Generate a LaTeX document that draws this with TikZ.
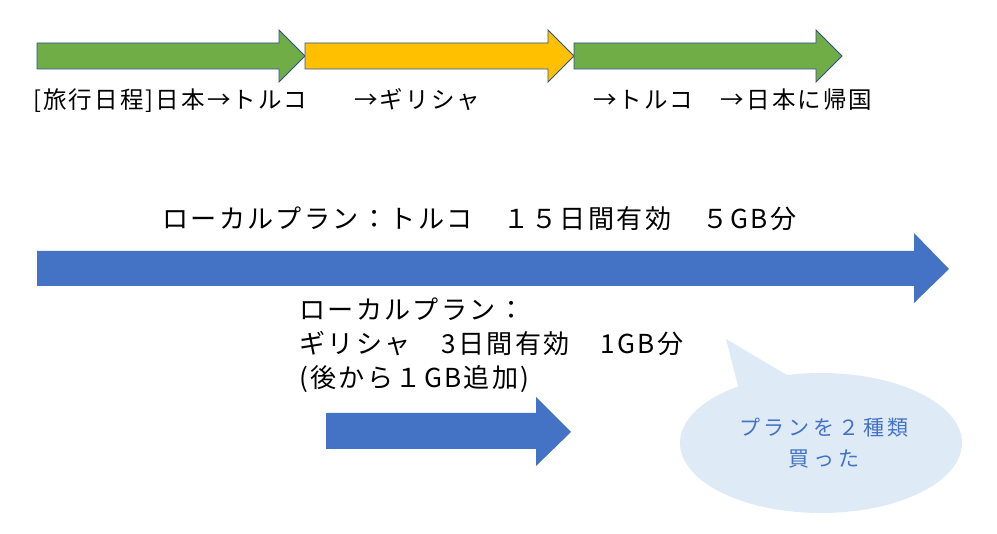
\documentclass[tikz,border=0pt]{standalone}
\usepackage{fontspec}
\setmainfont{Noto Sans CJK JP}
\newfontfamily\jp[LetterSpace=9]{Noto Sans CJK JP}
\newfontfamily\jpwide[LetterSpace=18]{Noto Sans CJK JP}
\definecolor{pgreen}{HTML}{70AD47}
\definecolor{pyellow}{HTML}{FFC000}
\definecolor{poutline}{HTML}{2F528F}
\definecolor{pblue}{HTML}{4472C4}
\definecolor{pbubble}{HTML}{DEEBF7}
\tikzset{
  toparrow/.style={draw=poutline, line width=0.8pt, line join=miter},
  bigarrow/.style={fill=pblue, draw=none},
  toplabel/.style={anchor=base west, inner sep=0pt, font=\jp\fontsize{23.5}{28}\selectfont},
  mainlabel/.style={anchor=base west, inner sep=0pt, font=\jp\fontsize{26.1}{33}\selectfont},
  bubbletext/.style={anchor=base, inner sep=0pt, text=pblue, font=\jpwide\fontsize{21}{26}\selectfont},
}
\begin{document}
\begin{tikzpicture}[x=1pt,y=-1pt]
\useasboundingbox (0,0) rectangle (997,534);
% top itinerary arrows
\filldraw[toparrow, fill=pgreen] (37,43) -- (279,43) -- (279,30) -- (305,56) -- (279,82) -- (279,69) -- (37,69) -- cycle;
\filldraw[toparrow, fill=pyellow] (305,43) -- (548,43) -- (548,30) -- (574,56) -- (548,82) -- (548,69) -- (305,69) -- cycle;
\filldraw[toparrow, fill=pgreen] (574,43) -- (816,43) -- (816,30) -- (842,56) -- (816,82) -- (816,69) -- (574,69) -- cycle;
\node[toplabel] (l1) at (33,109) {[旅行日程]日本→トルコ};
\node[toplabel] (l2) at (354,109) {→ギリシャ};
\node[toplabel] (l3) at (593,109) {→トルコ　→日本に帰国};
% Turkey plan
\node[mainlabel] (tr) at (162,229) {ローカルプラン：トルコ　１５日間有効　５GB分};
\fill[bigarrow] (37,251) -- (914,251) -- (914,233) -- (949,269) -- (914,303) -- (914,286) -- (37,286) -- cycle;
% Greece plan
\node[mainlabel] (g1) at (299,320) {ローカルプラン：};
\node[mainlabel] (g2) at (299,354) {ギリシャ　3日間有効　1GB分};
\node[mainlabel] (g3) at (299,388) {(後から１GB追加)};
\fill[bigarrow] (326,413) -- (536,413) -- (536,397) -- (571,432) -- (536,466) -- (536,449) -- (326,449) -- cycle;
% speech bubble
\fill[pbubble] (821,443) ellipse [x radius=141, y radius=70];
\fill[pbubble] (739,390) -- (726,339) -- (792,378) -- cycle;
\node[bubbletext] (b1) at (824,436) {プランを２種類};
\node[bubbletext] (b2) at (824,467) {買った};
\end{tikzpicture}
\end{document}
